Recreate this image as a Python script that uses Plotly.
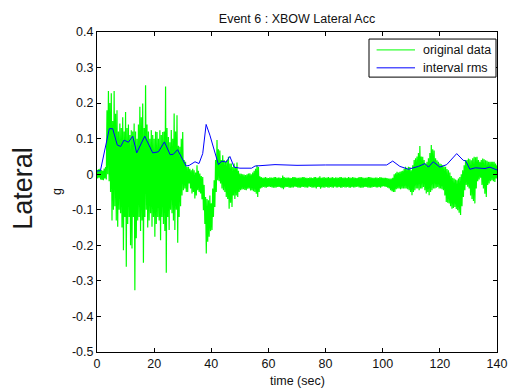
import plotly.graph_objects as go

# ---- data ----
ENV_T = list(range(0, 141))  # whole-second sample times (s)

# upper / lower extremes at whole seconds
GREEN_HI = [
    0.012, 0.015, 0.010, 0.020, 0.234, 0.228, 0.234, 0.180, 0.143, 0.160,
    0.175, 0.140, 0.124, 0.143, 0.100, 0.190, 0.199, 0.250, 0.120, 0.124,
    0.100, 0.119, 0.124, 0.119, 0.247, 0.105, 0.124, 0.171, 0.166, 0.077,
    0.119, 0.035, 0.021, 0.011, 0.011, 0.025, 0.002, -0.008, -0.064, -0.073,
    -0.082, -0.017, 0.096, 0.067, 0.053, 0.035, 0.049, 0.030, 0.030, 0.033,
    0.002, 0.000, -0.002, 0.002, 0.000, 0.010, 0.025, -0.006, -0.010, -0.008,
    -0.011, -0.009, -0.008, -0.010, -0.009, -0.004, -0.010, -0.009, -0.011, -0.008,
    -0.010, -0.009, -0.008, -0.010, -0.011, -0.009, -0.008, -0.010, -0.006, -0.009,
    -0.010, -0.008, -0.009, -0.011, -0.009, -0.008, -0.010, -0.009, -0.008, -0.010,
    -0.009, -0.011, -0.008, -0.009, -0.010, -0.008, -0.009, -0.010, -0.009, -0.008,
    -0.010, -0.010, -0.012, -0.012, 0.000, 0.007, 0.007, 0.010, 0.021, 0.021,
    0.011, 0.040, 0.050, 0.079, 0.049, 0.030, 0.045, 0.082, 0.067, 0.039,
    0.030, 0.025, 0.021, 0.011, -0.005, -0.012, -0.017, -0.008, 0.011, 0.039,
    0.044, 0.039, 0.049, 0.049, 0.035, 0.044, 0.039, 0.035, 0.035, 0.035,
    0.025,
]
GREEN_LO = [
    -0.012, -0.015, -0.017, -0.015, -0.020, -0.130, -0.090, -0.148, -0.110, -0.214,
    -0.260, -0.120, -0.209, -0.326, -0.130, -0.160, -0.249, -0.100, -0.130, -0.148,
    -0.176, -0.120, -0.186, -0.140, -0.277, -0.157, -0.110, -0.157, -0.193, -0.090,
    -0.045, -0.050, -0.026, -0.054, -0.068, -0.045, -0.054, -0.101, -0.223, -0.176,
    -0.157, -0.092, -0.017, -0.026, -0.045, -0.064, -0.097, -0.092, -0.070, -0.064,
    -0.045, -0.042, -0.045, -0.040, -0.045, -0.050, -0.064, -0.040, -0.036, -0.038,
    -0.035, -0.037, -0.038, -0.036, -0.037, -0.042, -0.036, -0.038, -0.037, -0.035,
    -0.037, -0.038, -0.036, -0.037, -0.035, -0.038, -0.037, -0.036, -0.041, -0.037,
    -0.036, -0.038, -0.037, -0.035, -0.037, -0.038, -0.036, -0.037, -0.038, -0.036,
    -0.037, -0.035, -0.038, -0.037, -0.036, -0.038, -0.037, -0.036, -0.037, -0.038,
    -0.034, -0.036, -0.040, -0.048, -0.050, -0.040, -0.042, -0.040, -0.040, -0.045,
    -0.059, -0.045, -0.040, -0.040, -0.036, -0.054, -0.059, -0.045, -0.040, -0.036,
    -0.040, -0.045, -0.078, -0.082, -0.097, -0.092, -0.101, -0.115, -0.064, -0.030,
    -0.040, -0.070, -0.082, -0.020, -0.010, -0.040, -0.064, -0.026, -0.017, -0.022,
    -0.008,
]
# upper / lower values at the half seconds (t + 0.5)
GREEN_HI_MID = [
    0.014, 0.012, 0.016, 0.180, 0.200, 0.150, 0.170, 0.120, 0.130, 0.120,
    0.130, 0.110, 0.120, 0.120, 0.140, 0.160, 0.130, 0.140, 0.100, 0.110,
    0.120, 0.100, 0.110, 0.120, 0.130, 0.090, 0.100, 0.120, 0.080, 0.100,
    0.040, 0.020, 0.015, 0.015, 0.005, 0.010, -0.005, -0.030, -0.070, -0.060,
    -0.040, 0.040, 0.070, 0.040, 0.040, 0.040, 0.030, 0.020, 0.020, 0.010,
    0.001, -0.001, 0.000, 0.003, 0.005, 0.015, 0.020, -0.008, -0.009, -0.010,
    -0.009, -0.010, -0.008, -0.009, -0.011, -0.008, -0.009, -0.010, -0.008, -0.009,
    -0.010, -0.009, -0.008, -0.010, -0.009, -0.011, -0.008, -0.009, -0.010, -0.008,
    -0.009, -0.010, -0.008, -0.009, -0.010, -0.008, -0.009, -0.011, -0.009, -0.008,
    -0.010, -0.009, -0.008, -0.010, -0.009, -0.008, -0.010, -0.009, -0.011, -0.009,
    -0.010, -0.011, -0.012, -0.010, 0.003, 0.005, 0.008, 0.015, 0.015, 0.020,
    0.025, 0.045, 0.060, 0.050, 0.040, 0.035, 0.060, 0.070, 0.045, 0.035,
    0.028, 0.022, 0.015, 0.005, -0.010, -0.015, -0.012, 0.000, 0.025, 0.040,
    0.042, 0.045, 0.048, 0.040, 0.040, 0.042, 0.038, 0.035, 0.035, 0.030,
]
GREEN_LO_MID = [
    -0.010, -0.016, -0.012, 0.000, -0.050, -0.100, -0.130, -0.100, -0.150, -0.120,
    -0.140, -0.200, -0.120, -0.180, -0.120, -0.130, -0.120, -0.150, -0.110, -0.120,
    -0.140, -0.130, -0.120, -0.160, -0.120, -0.100, -0.130, -0.100, -0.120, -0.060,
    -0.040, -0.050, -0.040, -0.050, -0.060, -0.050, -0.070, -0.140, -0.190, -0.160,
    -0.120, -0.050, -0.020, -0.040, -0.050, -0.070, -0.080, -0.060, -0.060, -0.050,
    -0.043, -0.044, -0.041, -0.046, -0.048, -0.055, -0.050, -0.038, -0.037, -0.036,
    -0.036, -0.038, -0.037, -0.036, -0.039, -0.037, -0.036, -0.038, -0.037, -0.036,
    -0.038, -0.036, -0.037, -0.038, -0.036, -0.037, -0.040, -0.036, -0.037, -0.038,
    -0.037, -0.036, -0.038, -0.037, -0.036, -0.038, -0.037, -0.036, -0.038, -0.037,
    -0.036, -0.037, -0.038, -0.036, -0.037, -0.038, -0.036, -0.037, -0.036, -0.035,
    -0.035, -0.038, -0.045, -0.050, -0.042, -0.040, -0.040, -0.040, -0.042, -0.050,
    -0.050, -0.040, -0.045, -0.040, -0.045, -0.050, -0.050, -0.040, -0.038, -0.040,
    -0.042, -0.060, -0.080, -0.090, -0.095, -0.098, -0.108, -0.090, -0.045, -0.035,
    -0.060, -0.075, -0.040, -0.015, -0.030, -0.055, -0.030, -0.020, -0.020, -0.012,
]

RMS_T = [0, 1.2, 4.3, 5.5, 7.1, 8.3, 9.45, 11, 12.5, 13.9, 16.7, 19.5, 21.5, 23.6,
         25.6, 26.7, 28.2, 31.2, 32.3, 34.3, 35.7, 37, 38.2, 39.5, 42.5, 43.7, 45.2,
         46.5, 48, 50, 54.1, 55.3, 62.3, 70, 80, 90, 101.4, 103.5, 106, 109, 112.5,
         114.8, 116, 117.7, 120, 122.4, 125.9, 128.2, 129, 130.5, 132.4, 135.8, 137.5, 140]
RMS_V = [0.009, 0.010, 0.128, 0.128, 0.082, 0.078, 0.096, 0.090, 0.107, 0.060, 0.107,
         0.060, 0.063, 0.091, 0.055, 0.056, 0.069, 0.023, 0.025, 0.035, 0.030, 0.058,
         0.140, 0.110, 0.027, 0.037, 0.034, 0.050, 0.020, 0.017, 0.017, 0.023, 0.027,
         0.025, 0.026, 0.025, 0.026, 0.037, 0.022, 0.014, 0.022, 0.030, 0.020, 0.035,
         0.020, 0.027, 0.058, 0.039, 0.038, 0.014, 0.018, 0.016, 0.020, 0.012]

X_TICKS = [0, 20, 40, 60, 80, 100, 120, 140]
Y_TICKS = [0.4, 0.3, 0.2, 0.1, 0, -0.1, -0.2, -0.3, -0.4, -0.5]
Y_TICK_TEXT = ["0.4", "0.3", "0.2", "0.1", "0", "-0.1", "-0.2", "-0.3", "-0.4", "-0.5"]
SERIES_NAMES = ["original data", "interval rms"]
SERIES_COLORS = ["#00ff00", "#0000ff"]

# green trace: walk through the read extremes in time order
gx, gy = [], []
for i, t in enumerate(ENV_T):
    gx += [t, t + 0.25]
    gy += [GREEN_HI[i], GREEN_LO[i]]
    if i < len(GREEN_HI_MID):
        gx += [t + 0.5, t + 0.75]
        gy += [GREEN_HI_MID[i], GREEN_LO_MID[i]]
gx[-1] = min(gx[-1], 140)

FONT = "Liberation Sans, Arial, sans-serif"
TXT = "#111"

fig = go.Figure()
fig.add_trace(go.Scatter(x=gx, y=gy, mode="lines", name=SERIES_NAMES[0],
                         line=dict(color=SERIES_COLORS[0], width=1.2)))
fig.add_trace(go.Scatter(x=RMS_T, y=RMS_V, mode="lines", name=SERIES_NAMES[1],
                         line=dict(color=SERIES_COLORS[1], width=1)))

axis_common = dict(showgrid=False, zeroline=False, showline=True, linecolor="black",
                   linewidth=1, ticks="inside", ticklen=4, tickcolor="black",
                   mirror="ticks", automargin=False,
                   tickfont=dict(family=FONT, size=12.5, color=TXT))
fig.update_xaxes(range=[0, 140], tickvals=X_TICKS, **axis_common)
fig.update_yaxes(range=[-0.5, 0.4], tickvals=Y_TICKS, ticktext=Y_TICK_TEXT, **axis_common)

# hand-built legend box (MATLAB style)
LEG_X0, LEG_X1, LEG_Y0, LEG_Y1 = 0.68, 0.9975, 0.859, 0.978
shapes = [dict(type="rect", xref="paper", yref="paper", x0=LEG_X0, x1=LEG_X1,
               y0=LEG_Y0, y1=LEG_Y1, line=dict(color="black", width=1),
               fillcolor="white", layer="above")]
annotations = []
for i, (name, col) in enumerate(zip(SERIES_NAMES, SERIES_COLORS)):
    yy = 0.944 - i * 0.056
    shapes.append(dict(type="line", xref="paper", yref="paper", x0=0.699, x1=0.795,
                       y0=yy, y1=yy, line=dict(color=col, width=1), layer="above"))
    annotations.append(dict(text=name, x=0.809, y=yy, xref="paper", yref="paper",
                            showarrow=False, xanchor="left", yanchor="middle",
                            font=dict(family=FONT, size=12.5, color=TXT)))

annotations += [
    dict(text="time (sec)", x=0.5, y=-29 / 320, xref="paper", yref="paper",
         showarrow=False, yanchor="middle", xanchor="center",
         font=dict(family=FONT, size=12.5, color=TXT)),
    dict(text="g", x=-40 / 400, y=0.5, xref="paper", yref="paper", textangle=-90,
         showarrow=False, xanchor="center", yanchor="middle",
         font=dict(family=FONT, size=12.5, color=TXT)),
    dict(text="Lateral", x=-74 / 400, y=0.51, xref="paper", yref="paper", textangle=-90,
         showarrow=False, xanchor="center", yanchor="middle",
         font=dict(family=FONT, size=27, color="#1a1a1a")),
]

fig.update_layout(
    width=510, height=389,
    margin=dict(l=97, r=13, t=32, b=37),
    paper_bgcolor="white", plot_bgcolor="white",
    font=dict(family=FONT, size=12.5, color=TXT),
    title=dict(text="Event 6 : XBOW Lateral Acc", x=0.5, xref="paper",
               y=1 - 19 / 389, yref="container", yanchor="middle", xanchor="center",
               font=dict(family=FONT, size=12.5, color=TXT)),
    showlegend=False,
    shapes=shapes,
    annotations=annotations,
)

fig.write_html("out.html")
